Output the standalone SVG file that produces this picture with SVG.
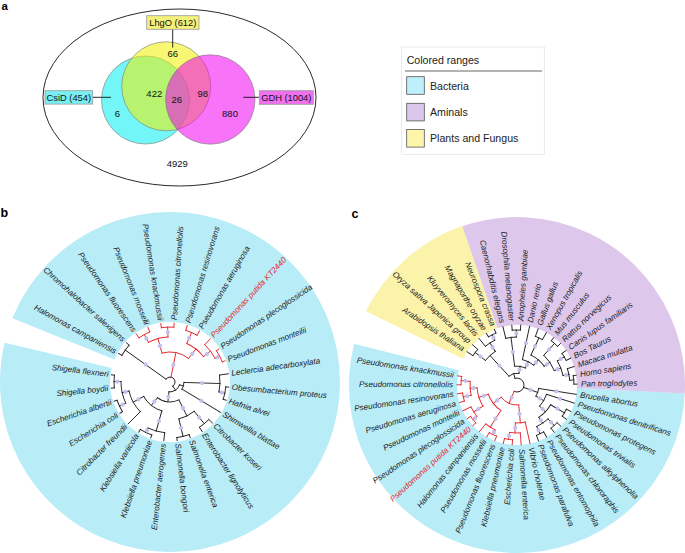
<svg xmlns="http://www.w3.org/2000/svg" width="685" height="553" viewBox="0 0 685 553">
<style>
text{font-family:"Liberation Sans",Arial,Helvetica,sans-serif}
.pl{font-weight:bold;fill:#000}
.num{font-size:9.5px;text-anchor:middle;fill:#111}
.bx{font-size:9.3px;text-anchor:middle;fill:#111}
.lg{font-size:10.6px;fill:#222}
.lb{font-size:8.1px;font-style:italic;fill:#1a1a1a}
.lb.red{fill:#e3262d}
.k line,.k circle{stroke:#1e1e1e;stroke-width:.9;fill:none;stroke-linecap:square}
.r line,.r circle{stroke:#e3262d;stroke-width:.9;fill:none;stroke-linecap:square}
.d circle{fill:#c6bfec}
.sw{stroke:#555;stroke-width:.8}
.vc{stroke:#777;stroke-width:.6}
.ld{stroke:#111;stroke-width:.9}
.bxr{stroke:#999;stroke-width:.8}
</style>
<rect width="685" height="553" fill="#fff"/>

<!-- panel letters -->
<text class="pl" x="1.5" y="9.5" font-size="11.5">a</text>
<text class="pl" x="0.5" y="217" font-size="12.5">b</text>
<text class="pl" x="351.5" y="217.5" font-size="12.5">c</text>

<!-- ===== Panel a: Venn ===== -->
<g id="venn">
<ellipse cx="179.5" cy="97.5" rx="136.5" ry="88.5" fill="none" stroke="#111" stroke-width="0.9"/>
<circle class="vc" cx="145.5" cy="100" r="44" fill="#00eef0" fill-opacity="0.55"/>
<circle class="vc" cx="166.2" cy="86.3" r="44.5" fill="#f0f000" fill-opacity="0.55"/>
<circle class="vc" cx="210.3" cy="99.5" r="44.7" fill="#f000f0" fill-opacity="0.55"/>
<text class="num" x="172.7" y="56.6">66</text>
<text class="num" x="154.3" y="96.6">422</text>
<text class="num" x="176.7" y="102.6">26</text>
<text class="num" x="202.7" y="97.3">98</text>
<text class="num" x="117.3" y="117.3">6</text>
<text class="num" x="230" y="117.3">880</text>
<text class="num" x="177.3" y="167.3">4929</text>
</g>
<g id="venn-connectors">
<line class="ld" x1="172.7" y1="29.3" x2="172.7" y2="47.5"/>
<line class="ld" x1="92.7" y1="97.3" x2="111" y2="97.3"/>
<line class="ld" x1="243.3" y1="97.3" x2="259.3" y2="97.3"/>
</g>
<g id="box-lhgo">
<rect class="bxr" x="146.7" y="15.7" width="52.3" height="13.6" fill="#f4f07c"/>
<text class="bx" x="172.8" y="25.9">LhgO (612)</text>
</g>
<g id="box-csid">
<rect class="bxr" x="45" y="90.7" width="47.7" height="13.4" fill="#78eef2"/>
<text class="bx" x="68.8" y="100.8">CsiD (454)</text>
</g>
<g id="box-gdh">
<rect class="bxr" x="259.3" y="90.7" width="54" height="13.6" fill="#f070f0"/>
<text class="bx" x="286.3" y="100.8">GDH (1004)</text>
</g>

<!-- ===== Legend ===== -->
<g id="legend">
<rect x="401.7" y="47" width="142.6" height="107.3" fill="#fff" stroke="#e3e3e3" stroke-width="0.8"/>
<text class="lg" x="406.7" y="64">Colored ranges</text>
<line x1="405" y1="71" x2="542" y2="71" stroke="#9a9a9a" stroke-width="1.3"/>
<g id="legend-bacteria"><rect class="sw" x="406.7" y="76.7" width="17.6" height="17.6" fill="#bdf0fa"/><text class="lg" x="430" y="89.5">Bacteria</text></g>
<g id="legend-aminals"><rect class="sw" x="406.7" y="103.3" width="17.6" height="17.6" fill="#dcc7ec"/><text class="lg" x="430" y="116">Aminals</text></g>
<g id="legend-plants"><rect class="sw" x="406.7" y="129.5" width="17.6" height="17.6" fill="#fdf5ac"/><text class="lg" x="430" y="142.3">Plants and Fungus</text></g>
</g>

<!-- ===== Panel b ===== -->
<g id="b-ranges" transform="translate(170,382)">
<circle r="115" fill="none" stroke="#b8ecf7" stroke-width="110" stroke-dasharray="704.49 2000" transform="rotate(202)"/>
</g>
<g id="b-connectors" transform="translate(170,382)">
<g class="k">
<circle r="5" stroke-dasharray="17.51 999" transform="rotate(215.5)"/>
<line x1="5" x2="55" transform="rotate(215.5)"/>
<circle r="55" stroke-dasharray="12.48 999" transform="rotate(209)"/>
<line x1="55" x2="59" transform="rotate(209)"/>
<line x1="55" x2="59" transform="rotate(222)"/>
<line x1="5" x2="10" transform="rotate(416.19)"/>
<circle r="10" stroke-dasharray="13.9 999" transform="rotate(376.38)"/>
<line x1="10" x2="14" transform="rotate(376.38)"/>
<circle r="14" stroke-dasharray="7.15 999" transform="rotate(361.75)"/>
<line x1="14" x2="50" transform="rotate(361.75)"/>
<circle r="50" stroke-dasharray="17.02 999" transform="rotate(352)"/>
<line x1="50" x2="59" transform="rotate(352)"/>
<line x1="50" x2="56" transform="rotate(371.5)"/>
<circle r="56" stroke-dasharray="12.71 999" transform="rotate(365)"/>
<line x1="56" x2="59" transform="rotate(365)"/>
<line x1="56" x2="59" transform="rotate(378)"/>
<line x1="14" x2="59" transform="rotate(391)"/>
<line x1="10" x2="20" transform="rotate(456)"/>
<circle r="20" stroke-dasharray="22.69 999" transform="rotate(423.5)"/>
<line x1="20" x2="38" transform="rotate(423.5)"/>
<circle r="38" stroke-dasharray="17.24 999" transform="rotate(410.5)"/>
<line x1="38" x2="54" transform="rotate(410.5)"/>
<circle r="54" stroke-dasharray="12.25 999" transform="rotate(404)"/>
<line x1="54" x2="59" transform="rotate(404)"/>
<line x1="54" x2="59" transform="rotate(417)"/>
<line x1="38" x2="56" transform="rotate(436.5)"/>
<circle r="56" stroke-dasharray="12.71 999" transform="rotate(430)"/>
<line x1="56" x2="59" transform="rotate(430)"/>
<line x1="56" x2="59" transform="rotate(443)"/>
<line x1="20" x2="30" transform="rotate(488.5)"/>
<circle r="30" stroke-dasharray="23.82 999" transform="rotate(465.75)"/>
<line x1="30" x2="51" transform="rotate(465.75)"/>
<circle r="51" stroke-dasharray="17.36 999" transform="rotate(456)"/>
<line x1="51" x2="59" transform="rotate(456)"/>
<line x1="51" x2="56" transform="rotate(475.5)"/>
<circle r="56" stroke-dasharray="12.71 999" transform="rotate(469)"/>
<line x1="56" x2="59" transform="rotate(469)"/>
<line x1="56" x2="59" transform="rotate(482)"/>
<line x1="30" x2="42" transform="rotate(511.25)"/>
<circle r="42" stroke-dasharray="23.82 999" transform="rotate(495)"/>
<line x1="42" x2="59" transform="rotate(495)"/>
<line x1="42" x2="49" transform="rotate(527.5)"/>
<circle r="49" stroke-dasharray="22.24 999" transform="rotate(514.5)"/>
<line x1="49" x2="56" transform="rotate(514.5)"/>
<circle r="56" stroke-dasharray="12.71 999" transform="rotate(508)"/>
<line x1="56" x2="59" transform="rotate(508)"/>
<line x1="56" x2="59" transform="rotate(521)"/>
<line x1="49" x2="56" transform="rotate(540.5)"/>
<circle r="56" stroke-dasharray="12.71 999" transform="rotate(534)"/>
<line x1="56" x2="59" transform="rotate(534)"/>
<line x1="56" x2="59" transform="rotate(547)"/>
</g>
<g class="r">
<line x1="5" x2="30" transform="rotate(281.3)"/>
<circle r="30" stroke-dasharray="28.08 999" transform="rotate(254.5)"/>
<line x1="30" x2="45" transform="rotate(254.5)"/>
<circle r="45" stroke-dasharray="20.42 999" transform="rotate(241.5)"/>
<line x1="45" x2="54" transform="rotate(241.5)"/>
<circle r="54" stroke-dasharray="12.25 999" transform="rotate(235)"/>
<line x1="54" x2="59" transform="rotate(235)"/>
<line x1="54" x2="59" transform="rotate(248)"/>
<line x1="45" x2="55" transform="rotate(267.5)"/>
<circle r="55" stroke-dasharray="12.48 999" transform="rotate(261)"/>
<line x1="55" x2="59" transform="rotate(261)"/>
<line x1="55" x2="59" transform="rotate(274)"/>
<line x1="30" x2="42" transform="rotate(308.13)"/>
<circle r="42" stroke-dasharray="21.44 999" transform="rotate(293.5)"/>
<line x1="42" x2="54" transform="rotate(293.5)"/>
<circle r="54" stroke-dasharray="12.25 999" transform="rotate(287)"/>
<line x1="54" x2="59" transform="rotate(287)"/>
<line x1="54" x2="59" transform="rotate(300)"/>
<line x1="42" x2="51" transform="rotate(322.75)"/>
<circle r="51" stroke-dasharray="17.36 999" transform="rotate(313)"/>
<line x1="51" x2="59" transform="rotate(313)"/>
<line x1="51" x2="56" transform="rotate(332.5)"/>
<circle r="56" stroke-dasharray="12.71 999" transform="rotate(326)"/>
<line x1="56" x2="59" transform="rotate(326)"/>
<line x1="56" x2="59" transform="rotate(339)"/>
</g>
<g class="d">
<circle cx="30" r="2.1" transform="rotate(215.5)"/>
<circle cx="17.5" r="2.1" transform="rotate(281.3)"/>
<circle cx="37.5" r="2.1" transform="rotate(254.5)"/>
<circle cx="36" r="2.1" transform="rotate(308.13)"/>
<circle cx="49.5" r="2.1" transform="rotate(241.5)"/>
<circle cx="50" r="2.1" transform="rotate(267.5)"/>
<circle cx="48" r="2.1" transform="rotate(293.5)"/>
<circle cx="46.5" r="2.1" transform="rotate(322.75)"/>
<circle cx="53.5" r="2.1" transform="rotate(332.5)"/>
<circle cx="32" r="2.1" transform="rotate(361.75)"/>
<circle cx="53" r="2.1" transform="rotate(371.5)"/>
<circle cx="36.5" r="2.1" transform="rotate(391)"/>
<circle cx="15" r="2.1" transform="rotate(456)"/>
<circle cx="29" r="2.1" transform="rotate(423.5)"/>
<circle cx="25" r="2.1" transform="rotate(488.5)"/>
<circle cx="46" r="2.1" transform="rotate(410.5)"/>
<circle cx="47" r="2.1" transform="rotate(436.5)"/>
<circle cx="40.5" r="2.1" transform="rotate(465.75)"/>
<circle cx="53.5" r="2.1" transform="rotate(475.5)"/>
<circle cx="36" r="2.1" transform="rotate(511.25)"/>
<circle cx="45.5" r="2.1" transform="rotate(527.5)"/>
<circle cx="52.5" r="2.1" transform="rotate(514.5)"/>
<circle cx="52.5" r="2.1" transform="rotate(540.5)"/>
</g>
</g>
<g id="b-labels" transform="translate(170,382)">
<g id="b-halomonas-campaniensis"><text class="lb" transform="rotate(29)" x="-62" dy="0.3em" text-anchor="end">Halomonas campaniensis</text></g>
<g id="b-chromohalobacter-salexigens"><text class="lb" transform="rotate(42)" x="-62" dy="0.3em" text-anchor="end">Chromohalobacter salexigens</text></g>
<g id="b-pseudomonas-fluorescens"><text class="lb" transform="rotate(55)" x="-62" dy="0.3em" text-anchor="end">Pseudomonas fluorescens</text></g>
<g id="b-pseudomonas-mosselii"><text class="lb" transform="rotate(68)" x="-62" dy="0.3em" text-anchor="end">Pseudomonas mosselii</text></g>
<g id="b-pseudomonas-knackmussii"><text class="lb" transform="rotate(81)" x="-62" dy="0.3em" text-anchor="end">Pseudomonas knackmussii</text></g>
<g id="b-pseudomonas-citronellolis"><text class="lb" transform="rotate(274)" x="62" dy="0.3em">Pseudomonas citronellolis</text></g>
<g id="b-pseudomonas-resinovorans"><text class="lb" transform="rotate(287)" x="62" dy="0.3em">Pseudomonas resinovorans</text></g>
<g id="b-pseudomonas-aeruginosa"><text class="lb" transform="rotate(300)" x="62" dy="0.3em">Pseudomonas aeruginosa</text></g>
<g id="b-pseudomonas-putida"><text class="lb red" transform="rotate(313)" x="62" dy="0.3em">Pseudomonas putida KT2440</text></g>
<g id="b-pseudomonas-plecoglossicida"><text class="lb" transform="rotate(326)" x="62" dy="0.3em">Pseudomonas plecoglossicida</text></g>
<g id="b-pseudomonas-monteilii"><text class="lb" transform="rotate(339)" x="62" dy="0.3em">Pseudomonas monteilii</text></g>
<g id="b-leclercia"><text class="lb" transform="rotate(352)" x="62" dy="0.3em">Leclercia adecarboxylata</text></g>
<g id="b-obesumbacterium"><text class="lb" transform="rotate(5)" x="62" dy="0.3em">Obesumbacterium proteus</text></g>
<g id="b-hafnia"><text class="lb" transform="rotate(18)" x="62" dy="0.3em">Hafnia alvei</text></g>
<g id="b-shimwellia"><text class="lb" transform="rotate(31)" x="62" dy="0.3em">Shimwellia blattae</text></g>
<g id="b-citrobacter-koseri"><text class="lb" transform="rotate(44)" x="62" dy="0.3em">Citrobacter koseri</text></g>
<g id="b-enterobacter-lignolyticus"><text class="lb" transform="rotate(57)" x="62" dy="0.3em">Enterobacter lignolyticus</text></g>
<g id="b-salmonella-enterica"><text class="lb" transform="rotate(70)" x="62" dy="0.3em">Salmonella enterica</text></g>
<g id="b-salmonella-bongori"><text class="lb" transform="rotate(83)" x="62" dy="0.3em">Salmonella bongori</text></g>
<g id="b-enterobacter-aerogenes"><text class="lb" transform="rotate(276)" x="-62" dy="0.3em" text-anchor="end">Enterobacter aerogenes</text></g>
<g id="b-klebsiella-pneumoniae"><text class="lb" transform="rotate(289)" x="-62" dy="0.3em" text-anchor="end">Klebsiella pneumoniae</text></g>
<g id="b-klebsiella-variicola"><text class="lb" transform="rotate(302)" x="-62" dy="0.3em" text-anchor="end">Klebsiella variicola</text></g>
<g id="b-citrobacter-freundii"><text class="lb" transform="rotate(315)" x="-62" dy="0.3em" text-anchor="end">Citrobacter freundii</text></g>
<g id="b-escherichia-coli"><text class="lb" transform="rotate(328)" x="-62" dy="0.3em" text-anchor="end">Escherichia coli</text></g>
<g id="b-escherichia-albertii"><text class="lb" transform="rotate(341)" x="-62" dy="0.3em" text-anchor="end">Escherichia albertii</text></g>
<g id="b-shigella-boydii"><text class="lb" transform="rotate(354)" x="-62" dy="0.3em" text-anchor="end">Shigella boydii</text></g>
<g id="b-shigella-flexneri"><text class="lb" transform="rotate(7)" x="-62" dy="0.3em" text-anchor="end">Shigella flexneri</text></g>
</g>

<!-- ===== Panel c ===== -->
<g id="c-ranges" transform="translate(517,385)" fill="none" stroke-width="108">
<circle r="114" stroke="#b8ecf7" stroke-dasharray="380.42 2000" transform="rotate(2.8)"/>
<circle r="114" stroke="#fbf3aa" stroke-dasharray="89.53 2000" transform="rotate(206)"/>
<circle r="114" stroke="#ddc8ec" stroke-dasharray="222.44 2000" transform="rotate(251)"/>
</g>
<g id="c-connectors" transform="translate(517,385)">
<g class="k">
<circle r="7" stroke-dasharray="26.88 999" transform="rotate(253.53)"/>
<line x1="7" x2="22" transform="rotate(19.7)"/>
<circle r="22" stroke-dasharray="8.22 999" transform="rotate(9)"/>
<line x1="22" x2="60" transform="rotate(9)"/>
<line x1="22" x2="31" transform="rotate(30.4)"/>
<circle r="31" stroke-dasharray="13.89 999" transform="rotate(17.56)"/>
<line x1="31" x2="60" transform="rotate(17.56)"/>
<line x1="31" x2="39" transform="rotate(43.24)"/>
<circle r="39" stroke-dasharray="17.48 999" transform="rotate(30.4)"/>
<line x1="39" x2="55" transform="rotate(30.4)"/>
<circle r="55" stroke-dasharray="8.22 999" transform="rotate(26.12)"/>
<line x1="55" x2="60" transform="rotate(26.12)"/>
<line x1="55" x2="60" transform="rotate(34.68)"/>
<line x1="39" x2="46" transform="rotate(56.08)"/>
<circle r="46" stroke-dasharray="13.74 999" transform="rotate(47.52)"/>
<line x1="46" x2="55" transform="rotate(47.52)"/>
<circle r="55" stroke-dasharray="8.22 999" transform="rotate(43.24)"/>
<line x1="55" x2="60" transform="rotate(43.24)"/>
<line x1="55" x2="60" transform="rotate(51.8)"/>
<line x1="46" x2="54" transform="rotate(64.64)"/>
<circle r="54" stroke-dasharray="8.07 999" transform="rotate(60.36)"/>
<line x1="54" x2="60" transform="rotate(60.36)"/>
<line x1="54" x2="60" transform="rotate(68.92)"/>
<line x1="7" x2="12" transform="rotate(253.53)"/>
<circle r="12" stroke-dasharray="10.88 999" transform="rotate(227.55)"/>
<line x1="12" x2="40" transform="rotate(227.55)"/>
<circle r="40" stroke-dasharray="13.45 999" transform="rotate(217.92)"/>
<line x1="40" x2="53" transform="rotate(217.92)"/>
<circle r="53" stroke-dasharray="7.92 999" transform="rotate(213.64)"/>
<line x1="53" x2="60" transform="rotate(213.64)"/>
<line x1="53" x2="60" transform="rotate(222.2)"/>
<line x1="40" x2="50" transform="rotate(237.18)"/>
<circle r="50" stroke-dasharray="11.21 999" transform="rotate(230.76)"/>
<line x1="50" x2="60" transform="rotate(230.76)"/>
<line x1="50" x2="56" transform="rotate(243.6)"/>
<circle r="56" stroke-dasharray="8.37 999" transform="rotate(239.32)"/>
<line x1="56" x2="60" transform="rotate(239.32)"/>
<line x1="56" x2="60" transform="rotate(247.88)"/>
<line x1="12" x2="19" transform="rotate(279.51)"/>
<circle r="19" stroke-dasharray="11.04 999" transform="rotate(262.86)"/>
<line x1="19" x2="48" transform="rotate(262.86)"/>
<circle r="48" stroke-dasharray="10.76 999" transform="rotate(256.44)"/>
<line x1="48" x2="60" transform="rotate(256.44)"/>
<line x1="48" x2="55" transform="rotate(269.28)"/>
<circle r="55" stroke-dasharray="8.22 999" transform="rotate(265)"/>
<line x1="55" x2="60" transform="rotate(265)"/>
<line x1="55" x2="60" transform="rotate(273.56)"/>
<line x1="19" x2="26" transform="rotate(296.17)"/>
<circle r="26" stroke-dasharray="12.75 999" transform="rotate(282.12)"/>
<line x1="26" x2="60" transform="rotate(282.12)"/>
<line x1="26" x2="33" transform="rotate(310.21)"/>
<circle r="33" stroke-dasharray="17.56 999" transform="rotate(294.96)"/>
<line x1="33" x2="52" transform="rotate(294.96)"/>
<circle r="52" stroke-dasharray="7.77 999" transform="rotate(290.68)"/>
<line x1="52" x2="60" transform="rotate(290.68)"/>
<line x1="52" x2="60" transform="rotate(299.24)"/>
<line x1="33" x2="40" transform="rotate(325.46)"/>
<circle r="40" stroke-dasharray="18.67 999" transform="rotate(312.08)"/>
<line x1="40" x2="56" transform="rotate(312.08)"/>
<circle r="56" stroke-dasharray="8.37 999" transform="rotate(307.8)"/>
<line x1="56" x2="60" transform="rotate(307.8)"/>
<line x1="56" x2="60" transform="rotate(316.36)"/>
<line x1="40" x2="47" transform="rotate(338.83)"/>
<circle r="47" stroke-dasharray="15.8 999" transform="rotate(329.2)"/>
<line x1="47" x2="55" transform="rotate(329.2)"/>
<circle r="55" stroke-dasharray="8.22 999" transform="rotate(324.92)"/>
<line x1="55" x2="60" transform="rotate(324.92)"/>
<line x1="55" x2="60" transform="rotate(333.48)"/>
<line x1="47" x2="53" transform="rotate(348.46)"/>
<circle r="53" stroke-dasharray="11.88 999" transform="rotate(342.04)"/>
<line x1="53" x2="60" transform="rotate(342.04)"/>
<line x1="53" x2="57" transform="rotate(354.88)"/>
<circle r="57" stroke-dasharray="8.52 999" transform="rotate(350.6)"/>
<line x1="57" x2="60" transform="rotate(350.6)"/>
<line x1="57" x2="60" transform="rotate(359.16)"/>
</g>
<g class="r">
<line x1="7" x2="20" transform="rotate(113.59)"/>
<circle r="20" stroke-dasharray="19.98 999" transform="rotate(84.97)"/>
<line x1="20" x2="38" transform="rotate(84.97)"/>
<circle r="38" stroke-dasharray="9.93 999" transform="rotate(77.48)"/>
<line x1="38" x2="60" transform="rotate(77.48)"/>
<line x1="38" x2="48" transform="rotate(92.46)"/>
<circle r="48" stroke-dasharray="10.76 999" transform="rotate(86.04)"/>
<line x1="48" x2="60" transform="rotate(86.04)"/>
<line x1="48" x2="55" transform="rotate(98.88)"/>
<circle r="55" stroke-dasharray="8.22 999" transform="rotate(94.6)"/>
<line x1="55" x2="60" transform="rotate(94.6)"/>
<line x1="55" x2="60" transform="rotate(103.16)"/>
<line x1="20" x2="30" transform="rotate(142.22)"/>
<circle r="30" stroke-dasharray="20.73 999" transform="rotate(122.42)"/>
<line x1="30" x2="50" transform="rotate(122.42)"/>
<circle r="50" stroke-dasharray="11.21 999" transform="rotate(116)"/>
<line x1="50" x2="60" transform="rotate(128.84)"/>
<line x1="50" x2="55" transform="rotate(116)"/>
<circle r="55" stroke-dasharray="8.22 999" transform="rotate(111.72)"/>
<line x1="55" x2="60" transform="rotate(111.72)"/>
<line x1="55" x2="60" transform="rotate(120.28)"/>
<line x1="30" x2="40" transform="rotate(162.01)"/>
<circle r="40" stroke-dasharray="19.42 999" transform="rotate(148.1)"/>
<line x1="40" x2="51" transform="rotate(148.1)"/>
<circle r="51" stroke-dasharray="11.43 999" transform="rotate(141.68)"/>
<line x1="51" x2="60" transform="rotate(154.52)"/>
<line x1="51" x2="56" transform="rotate(141.68)"/>
<circle r="56" stroke-dasharray="8.37 999" transform="rotate(137.4)"/>
<line x1="56" x2="60" transform="rotate(137.4)"/>
<line x1="56" x2="60" transform="rotate(145.96)"/>
<line x1="40" x2="47" transform="rotate(175.92)"/>
<circle r="47" stroke-dasharray="14.04 999" transform="rotate(167.36)"/>
<line x1="47" x2="55" transform="rotate(167.36)"/>
<circle r="55" stroke-dasharray="8.22 999" transform="rotate(163.08)"/>
<line x1="55" x2="60" transform="rotate(163.08)"/>
<line x1="55" x2="60" transform="rotate(171.64)"/>
<line x1="47" x2="56" transform="rotate(184.48)"/>
<circle r="56" stroke-dasharray="8.37 999" transform="rotate(180.2)"/>
<line x1="56" x2="60" transform="rotate(180.2)"/>
<line x1="56" x2="60" transform="rotate(188.76)"/>
</g>
<g class="d">
<circle cx="14.5" r="2.1" transform="rotate(19.7)"/>
<circle cx="40" r="2.1" transform="rotate(9)"/>
<circle cx="26.5" r="2.1" transform="rotate(30.4)"/>
<circle cx="45" r="2.1" transform="rotate(17.56)"/>
<circle cx="35" r="2.1" transform="rotate(43.24)"/>
<circle cx="47" r="2.1" transform="rotate(30.4)"/>
<circle cx="42.5" r="2.1" transform="rotate(56.08)"/>
<circle cx="50.5" r="2.1" transform="rotate(47.52)"/>
<circle cx="50" r="2.1" transform="rotate(64.64)"/>
<circle cx="26" r="2.1" transform="rotate(227.55)"/>
<circle cx="46.5" r="2.1" transform="rotate(217.92)"/>
<circle cx="45" r="2.1" transform="rotate(237.18)"/>
<circle cx="53" r="2.1" transform="rotate(243.6)"/>
<circle cx="15.5" r="2.1" transform="rotate(279.51)"/>
<circle cx="33.5" r="2.1" transform="rotate(262.86)"/>
<circle cx="51.5" r="2.1" transform="rotate(269.28)"/>
<circle cx="22.5" r="2.1" transform="rotate(296.17)"/>
<circle cx="43" r="2.1" transform="rotate(282.12)"/>
<circle cx="29.5" r="2.1" transform="rotate(310.21)"/>
<circle cx="42.5" r="2.1" transform="rotate(294.96)"/>
<circle cx="36.5" r="2.1" transform="rotate(325.46)"/>
<circle cx="48" r="2.1" transform="rotate(312.08)"/>
<circle cx="43.5" r="2.1" transform="rotate(338.83)"/>
<circle cx="51" r="2.1" transform="rotate(329.2)"/>
<circle cx="50" r="2.1" transform="rotate(348.46)"/>
<circle cx="13.5" r="2.1" transform="rotate(113.59)"/>
<circle cx="29" r="2.1" transform="rotate(84.97)"/>
<circle cx="43" r="2.1" transform="rotate(92.46)"/>
<circle cx="51.5" r="2.1" transform="rotate(98.88)"/>
<circle cx="25" r="2.1" transform="rotate(142.22)"/>
<circle cx="40" r="2.1" transform="rotate(122.42)"/>
<circle cx="52.5" r="2.1" transform="rotate(116)"/>
<circle cx="35" r="2.1" transform="rotate(162.01)"/>
<circle cx="45.5" r="2.1" transform="rotate(148.1)"/>
<circle cx="53.5" r="2.1" transform="rotate(141.68)"/>
<circle cx="43.5" r="2.1" transform="rotate(175.92)"/>
<circle cx="51" r="2.1" transform="rotate(167.36)"/>
<circle cx="51.5" r="2.1" transform="rotate(184.48)"/>
</g>
</g>
<g id="c-labels" transform="translate(517,385)">
<g id="c-brucella"><text class="lb" transform="rotate(9)" x="64" dy="0.3em">Brucella abortus</text></g>
<g id="c-p-denitrificans"><text class="lb" transform="rotate(17.56)" x="64" dy="0.3em">Pseudomonas denitrificans</text></g>
<g id="c-p-protegens"><text class="lb" transform="rotate(26.12)" x="64" dy="0.3em">Pseudomonas protegens</text></g>
<g id="c-p-trivialis"><text class="lb" transform="rotate(34.68)" x="64" dy="0.3em">Pseudomonas trivialis</text></g>
<g id="c-p-alkylphenolia"><text class="lb" transform="rotate(43.24)" x="64" dy="0.3em">Pseudomonas alkylphenolia</text></g>
<g id="c-p-chlororaphis"><text class="lb" transform="rotate(51.8)" x="64" dy="0.3em">Pseudomonas chlororaphis</text></g>
<g id="c-p-entomophila"><text class="lb" transform="rotate(60.36)" x="64" dy="0.3em">Pseudomonas entomophila</text></g>
<g id="c-p-parafulva"><text class="lb" transform="rotate(68.92)" x="64" dy="0.3em">Pseudomonas parafulva</text></g>
<g id="c-vibrio"><text class="lb" transform="rotate(77.48)" x="64" dy="0.3em">Vibrio cholerae</text></g>
<g id="c-salmonella"><text class="lb" transform="rotate(86.04)" x="64" dy="0.3em">Salmonella enterica</text></g>
<g id="c-escherichia"><text class="lb" transform="rotate(274.6)" x="-64" dy="0.3em" text-anchor="end">Escherichia coli</text></g>
<g id="c-klebsiella"><text class="lb" transform="rotate(283.16)" x="-64" dy="0.3em" text-anchor="end">Klebsiella pneumoniae</text></g>
<g id="c-p-fluorescens"><text class="lb" transform="rotate(291.72)" x="-64" dy="0.3em" text-anchor="end">Pseudomonas fluorescens</text></g>
<g id="c-p-mosselii"><text class="lb" transform="rotate(300.28)" x="-64" dy="0.3em" text-anchor="end">Pseudomonas mosselii</text></g>
<g id="c-halomonas"><text class="lb" transform="rotate(308.84)" x="-64" dy="0.3em" text-anchor="end">Halomonas campaniensis</text></g>
<g id="c-p-putida"><text class="lb red" transform="rotate(317.4)" x="-64" dy="0.3em" text-anchor="end">Pseudomonas putida KT2440</text></g>
<g id="c-p-plecoglossicida"><text class="lb" transform="rotate(325.96)" x="-64" dy="0.3em" text-anchor="end">Pseudomonas plecoglossicida</text></g>
<g id="c-p-monteilii"><text class="lb" transform="rotate(334.52)" x="-64" dy="0.3em" text-anchor="end">Pseudomonas monteilii</text></g>
<g id="c-p-aeruginosa"><text class="lb" transform="rotate(343.08)" x="-64" dy="0.3em" text-anchor="end">Pseudomonas aeruginosa</text></g>
<g id="c-p-resinovorans"><text class="lb" transform="rotate(351.64)" x="-64" dy="0.3em" text-anchor="end">Pseudomonas resinovorans</text></g>
<g id="c-p-citronellolis"><text class="lb" transform="rotate(0.2)" x="-64" dy="0.3em" text-anchor="end">Pseudomonas citronellolis</text></g>
<g id="c-p-knackmussii"><text class="lb" transform="rotate(8.76)" x="-64" dy="0.3em" text-anchor="end">Pseudomonas knackmussii</text></g>
<g id="c-arabidopsis"><text class="lb" transform="rotate(33.64)" x="-64" dy="0.3em" text-anchor="end">Arabidopsis thaliana</text></g>
<g id="c-oryza"><text class="lb" transform="rotate(42.2)" x="-64" dy="0.3em" text-anchor="end">Oryza sativa Japonica group</text></g>
<g id="c-kluyveromyces"><text class="lb" transform="rotate(50.76)" x="-64" dy="0.3em" text-anchor="end">Kluyveromyces lactis</text></g>
<g id="c-magnaporthe"><text class="lb" transform="rotate(59.32)" x="-64" dy="0.3em" text-anchor="end">Magnaporthe oryzae</text></g>
<g id="c-neurospora"><text class="lb" transform="rotate(67.88)" x="-64" dy="0.3em" text-anchor="end">Neurospora crassa</text></g>
<g id="c-caenorhabditis"><text class="lb" transform="rotate(76.44)" x="-64" dy="0.3em" text-anchor="end">Caenorhabditis elegans</text></g>
<g id="c-drosophila"><text class="lb" transform="rotate(85)" x="-64" dy="0.3em" text-anchor="end">Drosophila melanogaster</text></g>
<g id="c-anopheles"><text class="lb" transform="rotate(273.56)" x="64" dy="0.3em">Anopheles gambiae</text></g>
<g id="c-danio"><text class="lb" transform="rotate(282.12)" x="64" dy="0.3em">Danio rerio</text></g>
<g id="c-gallus"><text class="lb" transform="rotate(290.68)" x="64" dy="0.3em">Gallus gallus</text></g>
<g id="c-xenopus"><text class="lb" transform="rotate(299.24)" x="64" dy="0.3em">Xenopus tropicalis</text></g>
<g id="c-mus"><text class="lb" transform="rotate(307.8)" x="64" dy="0.3em">Mus musculus</text></g>
<g id="c-rattus"><text class="lb" transform="rotate(316.36)" x="64" dy="0.3em">Rattus norvegicus</text></g>
<g id="c-canis"><text class="lb" transform="rotate(324.92)" x="64" dy="0.3em">Canis lupus familiaris</text></g>
<g id="c-bos"><text class="lb" transform="rotate(333.48)" x="64" dy="0.3em">Bos Taurus</text></g>
<g id="c-macaca"><text class="lb" transform="rotate(342.04)" x="64" dy="0.3em">Macaca mulatta</text></g>
<g id="c-homo"><text class="lb" transform="rotate(350.6)" x="64" dy="0.3em">Homo sapiens</text></g>
<g id="c-pan"><text class="lb" transform="rotate(359.16)" x="64" dy="0.3em">Pan troglodytes</text></g>
</g>
</svg>
